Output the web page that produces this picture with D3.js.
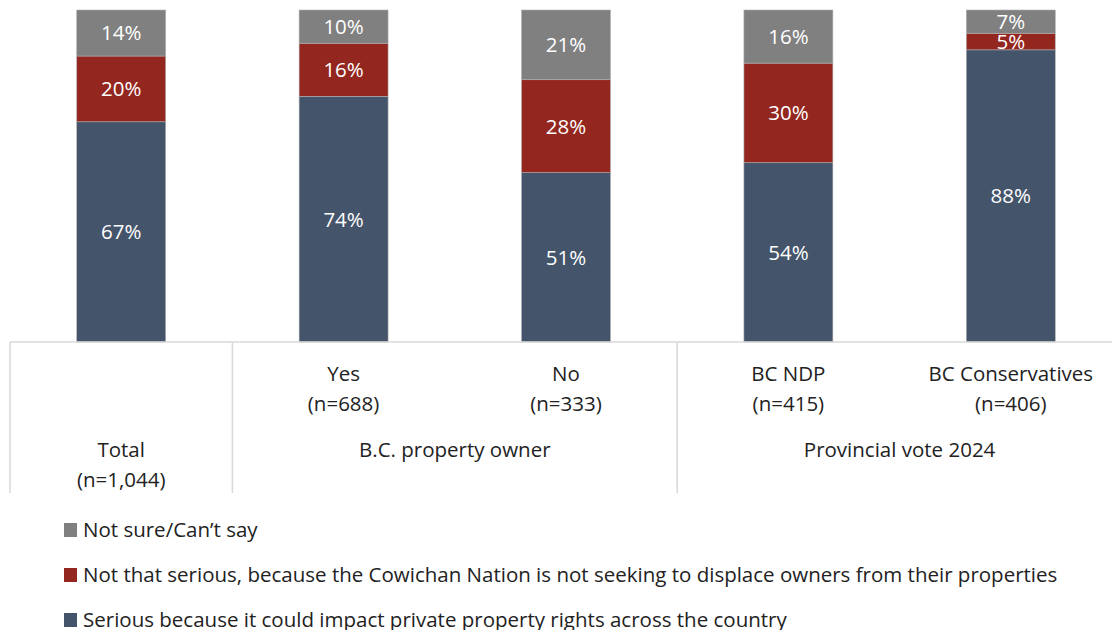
<!DOCTYPE html>
<html>
<head>
<meta charset="utf-8">
<script src="https://cdn.jsdelivr.net/npm/d3@7"></script>
<style>
	body { margin: 0; background: #fff; }
	svg text { font-family: "Open Sans", "Noto Sans", sans-serif; }
</style>
</head>
<body>
<div id="chart"></div>
<script>
// data
const categories = ["Total", "Yes", "No", "BC NDP", "BC Conservatives"];
const sampleSizes = ["(n=1,044)", "(n=688)", "(n=333)", "(n=415)", "(n=406)"];
const serious = [67, 74, 51, 54, 88];
const notSerious = [20, 16, 28, 30, 5];
const notSure = [14, 10, 21, 16, 7];
const groups = [
	{ label: "B.C. property owner", cats: ["Yes", "No"] },
	{ label: "Provincial vote 2024", cats: ["BC NDP", "BC Conservatives"] }
];
const seriesKeys = ["serious", "notSerious", "notSure"];
const seriesNames = {
	serious: "Serious because it could impact private property rights across the country",
	notSerious: "Not that serious, because the Cowichan Nation is not seeking to displace owners from their properties",
	notSure: "Not sure/Can\u2019t say"
};
const colors = { serious: "#44546a", notSerious: "#932720", notSure: "#808080" };

const w = 1112, h = 630;
const plotTop = 10, plotBottom = 342, axisBottom = 493;
const fs = 20.5;

let svg = d3.select("#chart").append("svg")
	.attr("width", w)
	.attr("height", h);

let rows = categories.map((c, i) => ({
	cat: c, serious: serious[i], notSerious: notSerious[i], notSure: notSure[i]
}));

// 100% stacked like the original
let stack = d3.stack().keys(seriesKeys).offset(d3.stackOffsetExpand);
let layers = stack(rows);

const x = d3.scaleBand().domain(categories).range([10, 1122]).paddingInner(0.6).paddingOuter(0.3);
const y = d3.scaleLinear().domain([0, 1]).range([plotBottom, plotTop]);
const gap = x.step() - x.bandwidth();

// bars
let layerG = svg.append("g").selectAll("g")
	.data(layers)
	.enter().append("g")
	.attr("fill", d => colors[d.key]);

layerG.selectAll("rect")
	.data(d => d)
	.enter().append("rect")
	.attr("x", d => x(d.data.cat))
	.attr("y", d => y(d[1]))
	.attr("width", x.bandwidth())
	.attr("height", d => y(d[0]) - y(d[1]))
	.attr("stroke", "#b0b0b0")
	.attr("stroke-width", 0.6);

// labels in segments
layerG.each(function(layer) {
	d3.select(this).selectAll("text")
		.data(layer)
		.enter().append("text")
		.attr("x", d => x(d.data.cat) + x.bandwidth() / 2)
		.attr("y", d => (y(d[0]) + y(d[1])) / 2)
		.attr("dy", "0.36em")
		.attr("text-anchor", "middle")
		.attr("fill", "#fff")
		.attr("font-size", fs)
		.text(d => d.data[layer.key] + "%");
});

// category axis
let axisG = svg.append("g").attr("stroke", "#d9d9d9").attr("stroke-width", 1.5);
axisG.append("line")
	.attr("x1", x.range()[0]).attr("x2", w)
	.attr("y1", plotBottom).attr("y2", plotBottom);

let sepCats = ["Total", "Yes", "BC NDP"];
axisG.selectAll(".sep")
	.data(sepCats)
	.enter().append("line")
	.attr("x1", d => x(d) - gap / 2).attr("x2", d => x(d) - gap / 2)
	.attr("y1", plotBottom).attr("y2", axisBottom);

let labelG = svg.append("g")
	.attr("text-anchor", "middle")
	.attr("fill", "#222")
	.attr("font-size", fs);

categories.forEach((c, i) => {
	let cx = x(c) + x.bandwidth() / 2;
	let top = c == "Total" ? 457 : 381;
	let t = labelG.append("text").attr("x", cx).attr("y", top);
	t.append("tspan").attr("x", cx).text(c);
	t.append("tspan").attr("x", cx).attr("dy", 30).text(sampleSizes[i]);
});

groups.forEach(g => {
	let cx = d3.mean(g.cats, c => x(c) + x.bandwidth() / 2);
	labelG.append("text").attr("x", cx).attr("y", 457).text(g.label);
});

// legend
let legendOrder = ["notSure", "notSerious", "serious"];
let legend = svg.append("g").selectAll("g")
	.data(legendOrder)
	.enter().append("g")
	.attr("transform", (d, i) => "translate(64," + (523 + i * 45) + ")");

legend.append("rect")
	.attr("width", 13).attr("height", 14)
	.attr("fill", d => colors[d]);

legend.append("text")
	.attr("x", 19).attr("y", 14)
	.attr("font-size", fs)
	.attr("fill", "#222")
	.text(d => seriesNames[d]);
</script>
</body>
</html>
